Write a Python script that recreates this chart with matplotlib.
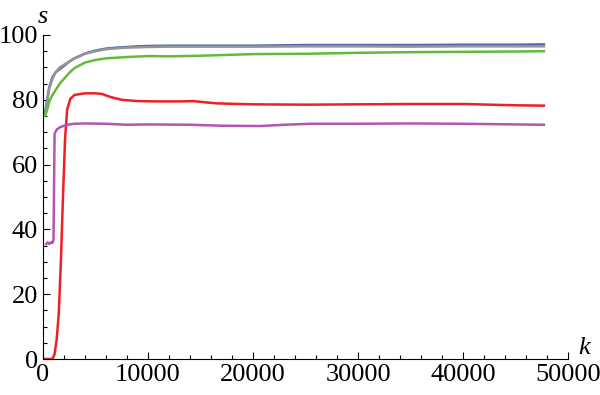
import numpy as np
import matplotlib.pyplot as plt
from matplotlib.ticker import MultipleLocator

# Valores
k_azul = [200, 400, 600, 900, 1200, 1600, 2000, 2500, 3000, 4000, 5000, 6000, 7000, 8000,
          9000, 10000, 12000, 15000, 20000, 25000, 30000, 35000, 40000, 45000, 47700]
azul = [76, 80, 84, 87, 88.5, 89.5, 90.5, 91.8, 92.8, 94.3, 95.2, 95.8, 96.1, 96.3,
        96.5, 96.6, 96.7, 96.7, 96.7, 96.9, 96.9, 96.9, 97.0, 97.0, 97.1]

k_gris = k_azul
gris = [76, 79.5, 83.5, 86.5, 88.5, 90, 90.8, 91.8, 92.8, 94.2, 95.0, 95.6, 95.9, 96.1,
        96.2, 96.3, 96.4, 96.4, 96.4, 96.5, 96.5, 96.4, 96.5, 96.5, 96.5]

k_verde = [200, 400, 600, 900, 1200, 1600, 2000, 2500, 3000, 4000, 5000, 6000, 8000, 10000,
           12000, 15000, 20000, 25000, 30000, 35000, 40000, 45000, 47700]
verde = [75, 77, 79.5, 81.5, 83, 85, 86.5, 88.3, 89.8, 91.5, 92.3, 92.8, 93.2, 93.5,
         93.4, 93.6, 94.1, 94.2, 94.5, 94.7, 94.8, 94.9, 95.0]

k_rojo = [0, 900, 1100, 1300, 1500, 1700, 1900, 2100, 2300, 2600, 3000, 4000, 5000, 5600,
          6500, 7500, 9000, 11000, 13000, 14300, 16500, 20000, 25000, 30000, 35000, 40000,
          45000, 47700]
rojo = [0, 0, 1.5, 6, 14, 30, 50, 68, 77, 80.3, 81.5, 82, 82, 81.8,
        80.8, 80, 79.6, 79.5, 79.5, 79.6, 78.9, 78.6, 78.5, 78.6, 78.7, 78.7,
        78.3, 78.2]

k_magenta = [300, 450, 600, 750, 900, 1000, 1100, 1300, 1600, 2000, 2500, 3000, 4000, 6000,
             8000, 10000, 14000, 17000, 20700, 23000, 25400, 30000, 35000, 40000, 45000, 47700]
magenta = [35.5, 36, 35.5, 36, 35.8, 36.8, 69.5, 70.8, 71.5, 72, 72.4, 72.6, 72.7, 72.6,
           72.3, 72.4, 72.3, 72.0, 71.9, 72.3, 72.6, 72.6, 72.7, 72.6, 72.4, 72.3]

plt.rcParams['font.family'] = ['Liberation Serif', 'DejaVu Serif']

fig = plt.figure(figsize=(6, 3.95), dpi=100)
ax = fig.add_axes([0.0717, 0.0911, 0.875, 0.8203])

ax.plot(k_azul, azul, color='#4f66b3', lw=1.8)
ax.plot(k_gris, gris, color='#959595', lw=1.8)
ax.plot(k_verde, verde, color='#62bb3f', lw=1.8)
ax.plot(k_rojo, rojo, color='#ee1f25', lw=1.8)
ax.plot(k_magenta, magenta, color='#b455b4', lw=1.8)

ax.set_xlim(0, 50000)
ax.set_ylim(0, 100)
ax.spines['top'].set_visible(False)
ax.spines['right'].set_visible(False)

ax.xaxis.set_major_locator(MultipleLocator(10000))
ax.xaxis.set_minor_locator(MultipleLocator(2000))
ax.yaxis.set_major_locator(MultipleLocator(20))
ax.yaxis.set_minor_locator(MultipleLocator(5))
ax.tick_params(which='both', direction='in', labelsize=19, width=0.8)
ax.tick_params(which='major', length=5)
ax.tick_params(which='minor', length=3)

ax.text(0.0, 1.055, 's', transform=ax.transAxes, fontsize=19, style='italic',
        ha='center', va='center')
ax.text(1.03, 0.035, 'k', transform=ax.transAxes, fontsize=19, style='italic',
        ha='center', va='center')

plt.savefig('out.png', dpi=100)
